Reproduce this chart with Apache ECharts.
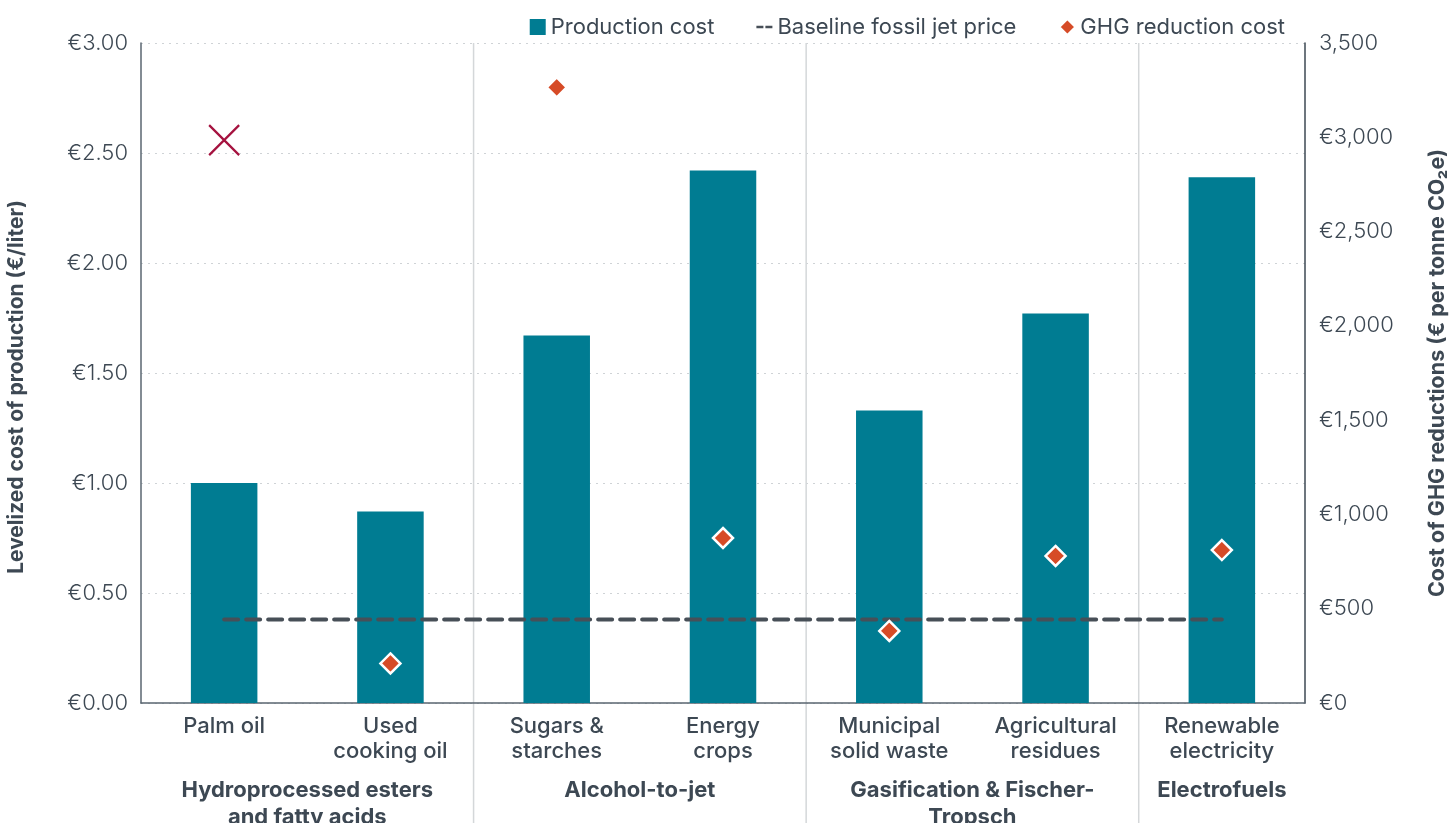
<!DOCTYPE html>
<html><head><meta charset="utf-8">
<script src="https://cdn.jsdelivr.net/npm/echarts@6/dist/echarts.min.js"></script>
<style>html,body{margin:0;padding:0;background:#fff}#c{width:1449px;height:823px}</style>
</head><body><div id="c"></div>
<script>
const categories = ['Palm oil','Used\ncooking oil','Sugars &\nstarches','Energy\ncrops','Municipal\nsolid waste','Agricultural\nresidues','Renewable\nelectricity'];
const productionCost = [1.00, 0.87, 1.67, 2.42, 1.33, 1.77, 2.39];
const baselineFossil = [0.38, 0.38, 0.38, 0.38, 0.38, 0.38, 0.38];
const ghgReductionCost = [null, 210, 3265, 875, 382, 780, 811];
const palmGhgMarker = [2985, null, null, null, null, null, null];
const groups = [
  {label: 'Hydroprocessed esters\nand fatty acids', from: 0, to: 1},
  {label: 'Alcohol-to-jet', from: 2, to: 3},
  {label: 'Gasification & Fischer-\nTropsch', from: 4, to: 5},
  {label: 'Electrofuels', from: 6, to: 6}
];
const leftTicks = {min: 0, max: 3, interval: 0.5};
const rightTicks = {min: 0, max: 3500, interval: 500};

const FONT = 'Inter, "Open Sans", sans-serif';
const TXT = '#3d4853';
const FS = 22;
const chart = echarts.init(document.getElementById('c'));
const option = {
  animation: false,
  textStyle: {fontFamily: FONT, color: TXT},
  grid: {left: 141, right: 144, top: 43, bottom: 120, outerBoundsMode: 'none', containLabel: false},
  legend: {
    top: 11, right: 159, itemGap: 42, itemWidth: 16, itemHeight: 16,
    textStyle: {fontFamily: FONT, fontSize: FS, color: TXT, padding: [0,0,0,0]},
    data: [
      {name: 'Production cost', icon: 'rect'},
      {name: 'Baseline fossil jet price', icon: 'path://M0,6h14v5h-14z M18,6h14v5h-14z', itemStyle: {color: '#474f57'}},
      {name: 'GHG reduction cost', icon: 'diamond'}
    ]
  },
  xAxis: {
    type: 'category', data: categories,
    axisLine: {lineStyle: {color: '#5a6670', width: 1.5}},
    axisTick: {show: false},
    axisLabel: {fontFamily: FONT, fontSize: FS, color: TXT, fontWeight: 500, lineHeight: 25, margin: 11}
  },
  yAxis: [
    {
      type: 'value', min: leftTicks.min, max: leftTicks.max, interval: leftTicks.interval,
      name: 'Levelized cost of production (€/liter)', nameLocation: 'middle', nameGap: 114,
      nameTextStyle: {fontFamily: FONT, fontSize: 21, fontWeight: 'bold', color: TXT, padding: [0, 28, 0, 0]},
      axisLine: {show: true, lineStyle: {color: '#5a6670', width: 1.5}},
      axisTick: {show: false},
      axisLabel: {fontFamily: FONT, fontSize: FS, fontWeight: 300, color: TXT, margin: 13, formatter: v => '€' + v.toFixed(2)},
      splitLine: {lineStyle: {color: '#cfd3d6', type: [2, 5], width: 1}}
    },
    {
      type: 'value', min: rightTicks.min, max: rightTicks.max, interval: rightTicks.interval,
      name: 'Cost of GHG reductions (€ per tonne CO₂e)', nameLocation: 'middle', nameGap: 122, nameRotate: 90,
      nameTextStyle: {fontFamily: FONT, fontSize: 21.5, fontWeight: 'bold', color: TXT},
      axisLine: {show: true, lineStyle: {color: '#3d4853', width: 1.5}},
      axisTick: {show: false},
      axisLabel: {fontFamily: FONT, fontSize: FS, fontWeight: 300, color: TXT, margin: 14,
        formatter: v => (v === 3500 ? '' : '€') + v.toLocaleString('en-US')},
      splitLine: {show: false}
    }
  ],
  series: [
    {name: 'Production cost', type: 'bar', data: productionCost, barWidth: '40%',
     itemStyle: {color: '#007c92'}, z: 2},
    {name: 'Baseline fossil jet price', type: 'line', data: baselineFossil, symbol: 'none',
     lineStyle: {color: '#474f57', width: 4, type: [14, 8], cap: 'round'}, z: 3},
    {name: 'GHG reduction cost', type: 'scatter', yAxisIndex: 1, data: ghgReductionCost,
     symbol: 'diamond', symbolSize: [20, 20],
     itemStyle: {color: '#d64b27', borderColor: '#fff', borderWidth: 2.5, opacity: 1}, z: 4},
    {name: 'palm', type: 'scatter', yAxisIndex: 1, data: palmGhgMarker,
     symbol: 'path://M0,0L30,30M30,0L0,30', symbolSize: 30,
     itemStyle: {color: 'none', borderColor: '#a5123f', borderWidth: 2.2, opacity: 1}, z: 4}
  ]
};
chart.setOption(option);

function drawGroups() {
  const g = [];
  const y0 = chart.convertToPixel({yAxisIndex: 0}, 0);
  const yTop = chart.convertToPixel({yAxisIndex: 0}, leftTicks.max);
  const c0 = chart.convertToPixel({xAxisIndex: 0}, 0);
  const c1 = chart.convertToPixel({xAxisIndex: 0}, 1);
  const step = c1 - c0;
  groups.forEach((gr, i) => {
    const xa = chart.convertToPixel({xAxisIndex: 0}, gr.from);
    const xb = chart.convertToPixel({xAxisIndex: 0}, gr.to);
    g.push({type: 'text', x: (xa + xb) / 2, y: y0 + 74, silent: true,
      style: {text: gr.label, fontFamily: FONT, fontSize: FS, fontWeight: 'bold', fill: TXT,
        align: 'center', verticalAlign: 'top', lineHeight: 27}});
    if (i > 0) {
      const xs = xa - step / 2;
      g.push({type: 'line', silent: true, z: 0,
        shape: {x1: xs, y1: yTop, x2: xs, y2: 823},
        style: {stroke: '#d4d7d9', lineWidth: 1.5}});
    }
  });
  chart.setOption({graphic: g});
}
drawGroups();
</script></body></html>
